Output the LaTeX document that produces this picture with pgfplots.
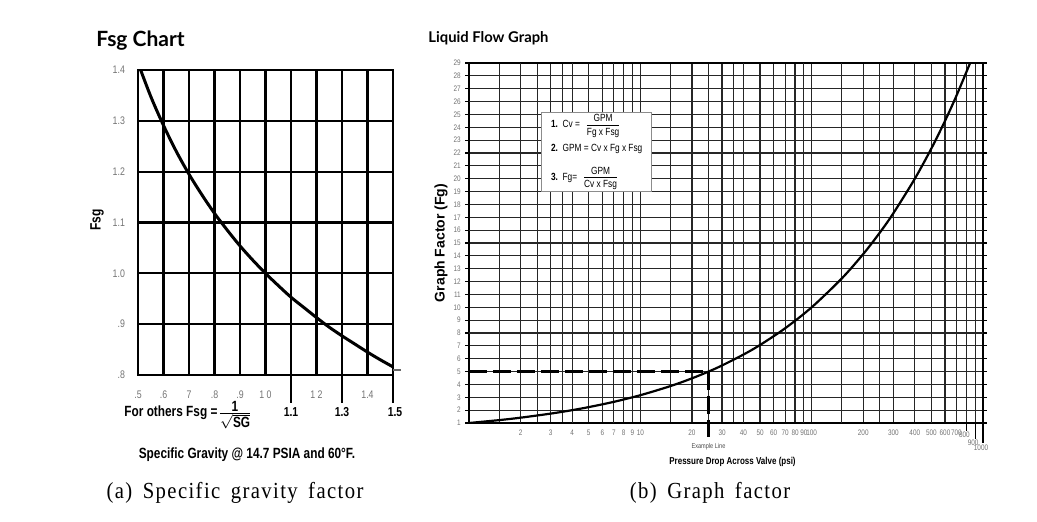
\documentclass[border=0pt]{standalone}
\usepackage{fontspec}
\setmainfont{Liberation Sans}
\newfontfamily\cond[FakeStretch=0.8]{Liberation Sans}
\newfontfamily\titlef{Lato}
\newfontfamily\capf[FakeStretch=0.9, LetterSpace=6, WordSpace=1.6]{Liberation Serif}
\usepackage{pgfplots}
\pgfplotsset{compat=1.18}
\begin{document}
\begin{tikzpicture}
\useasboundingbox (0,0) rectangle (518.5pt,260.5pt);
% ---------------- left: Fsg chart ----------------
\begin{axis}[at={(69pt,73pt)}, anchor=south west, scale only axis,
  width=127.5pt, height=152.5pt,
  xmin=0.5, xmax=1.5, ymin=0.8, ymax=1.4,
  clip mode=individual,
  xtick={0.5,0.6,0.7,0.8,0.9,1.0,1.1,1.2,1.3,1.4,1.5},
  xticklabels={.5,.6,7,.8,.9,1 0,,1 2,,1.4,},
  ytick={0.8,0.9,1.0,1.1,1.2,1.3,1.4},
  yticklabels={.8,.9,1.0,1.1,1.2,1.3,1.4},
  grid=major, major grid style={black, line width=1.1pt},
  axis line style={black, line width=1.1pt},
  major tick length=0pt,
  tick label style={font=\cond\fontsize{5.5}{6}\selectfont, text=black!55},
  xticklabel style={yshift=-4.5pt},
  yticklabel style={xshift=-3pt},
]
\addplot[black, line width=1.5pt, smooth] coordinates {
 (0.5,1.414) (0.55,1.348) (0.6,1.291) (0.65,1.240) (0.7,1.195) (0.75,1.155)
 (0.8,1.118) (0.85,1.085) (0.9,1.054) (0.95,1.026) (1.0,1.0) (1.05,0.976)
 (1.1,0.953) (1.15,0.933) (1.2,0.913) (1.25,0.894) (1.3,0.877) (1.35,0.861)
 (1.4,0.845) (1.45,0.830) (1.5,0.816)};
\draw[black, line width=1.1pt] (axis cs:1.1,0.8) -- ([yshift=-14pt]axis cs:1.1,0.8);
\draw[black, line width=1.1pt] (axis cs:1.3,0.8) -- ([yshift=-14pt]axis cs:1.3,0.8);
\draw[black, line width=1.1pt] (axis cs:1.5,0.8) -- ([yshift=-14pt]axis cs:1.5,0.8);
\draw[black!60, line width=0.6pt] (axis cs:1.5,0.81) -- ([xshift=4pt]axis cs:1.5,0.81);
\node[font=\cond\bfseries\fontsize{6.5}{7}\selectfont] at (axis cs:1.1,0.8) [yshift=-18.5pt] {1.1};
\node[font=\cond\bfseries\fontsize{6.5}{7}\selectfont] at (axis cs:1.3,0.8) [yshift=-18.5pt] {1.3};
\node[font=\cond\bfseries\fontsize{6.5}{7}\selectfont] at (axis cs:1.5,0.8) [yshift=-18.5pt, xshift=1pt] {1.5};
\end{axis}
\node[anchor=base west, inner sep=0pt, font=\titlef\bfseries\fontsize{10.5}{12}\selectfont] at (48pt,237.5pt) {Fsg Chart};
\node[rotate=90, font=\cond\bfseries\fontsize{7.5}{8}\selectfont] at (48.5pt,150.5pt) {Fsg};
\node[anchor=west, font=\cond\bfseries\fontsize{7.4}{8}\selectfont, inner sep=0pt] at (62pt,53pt)
  {For others Fsg =$\frac{\mbox{\cond\bfseries 1}}{\sqrt{\mbox{\cond\bfseries SG}}}$};
\node[font=\cond\bfseries\fontsize{7.4}{8}\selectfont] at (123.5pt,33pt) {Specific Gravity @ 14.7 PSIA and 60°F.};
% ---------------- right: Liquid flow graph ----------------
\begin{axis}[at={(234.5pt,49pt)}, anchor=south west, scale only axis,
  width=257pt, height=180pt,
  xmode=log, xmin=1, xmax=1000, ymin=1, ymax=29,
  clip mode=individual,
  xtick={1,1.5,2,2.5,3,3.5,4,5,6,7,8,9,10,15,20,25,30,35,40,50,60,70,80,90,100,150,200,250,300,400,500,600,700,800,900,1000},
  xticklabels={,,2,,3,,4,5,6,7,8,9,10,,20,,30,,40,50,60,70,80,90,100,,200,,300,400,500,600,700,,,},
  ytick={1,2,3,4,5,6,7,8,9,10,11,12,13,14,15,16,17,18,19,20,21,22,23,24,25,26,27,28,29},
  yticklabels={1,2,3,4,5,6,7,8,9,10,11,12,13,14,15,16,17,18,19,20,21,22,23,24,25,26,27,28,29},
  extra x ticks={2,4,7,40,90,150,500},
  extra x tick style={grid style={black, line width=1.1pt}, xticklabel={}},
  extra y ticks={8,16,26},
  extra y tick style={grid style={black, line width=1.2pt}, yticklabel={}},
  grid=major, major grid style={black!85, line width=0.6pt},
  axis line style={black, line width=0.8pt},
  xtick style={draw=none},
  ytick style={black, line width=0.6pt},
  tick align=outside, major tick length=1.8pt,
  tick label style={font=\cond\fontsize{4}{4.5}\selectfont, text=black!55},
  xticklabel style={yshift=2pt},
  yticklabel style={xshift=1.2pt},
]
\addplot[black, line width=1.1pt, smooth] coordinates {
 (1,1) (1.5,1.225) (2,1.414) (3,1.732) (4,2) (5,2.236) (7,2.646) (10,3.162)
 (15,3.873) (20,4.472) (25,5) (30,5.477) (40,6.325) (50,7.071) (70,8.367)
 (100,10) (150,12.247) (200,14.142) (250,15.811) (300,17.321) (400,20)
 (500,22.361) (600,24.495) (700,26.458) (841,29)};
\addplot[black, line width=1.1pt, dash pattern=on 9pt off 3pt] coordinates {(1,5) (25,5)};
\addplot[black, line width=1.1pt, dash pattern=on 9pt off 3pt] coordinates {(25,5) (25,1)};
\draw[black, line width=1.1pt] (axis cs:25,1) -- ([yshift=-7pt]axis cs:25,1);
\draw[black, line width=0.6pt] (axis cs:800,1) -- ([yshift=-4pt]axis cs:800,1);
\draw[black, line width=0.6pt] (axis cs:900,1) -- ([yshift=-8pt]axis cs:900,1);
\draw[black, line width=0.6pt] (axis cs:1000,1) -- ([yshift=-10pt]axis cs:1000,1);
\node[font=\cond\fontsize{4}{4.5}\selectfont, text=black!55] at (axis cs:800,1) [yshift=-6pt, xshift=-1pt] {800};
\node[font=\cond\fontsize{4}{4.5}\selectfont, text=black!55] at (axis cs:900,1) [yshift=-10pt, xshift=-1pt] {900};
\node[font=\cond\fontsize{4}{4.5}\selectfont, text=black!55] at (axis cs:1000,1) [yshift=-12.5pt, xshift=-1pt] {1000};
\node[font=\cond\fontsize{3.5}{4}\selectfont, text=black!70] at (axis cs:25,1) [yshift=-12pt] {Example Line};
\end{axis}
\node[anchor=base west, inner sep=0pt, font=\titlef\bfseries\fontsize{7.4}{9}\selectfont] at (214pt,239.5pt) {Liquid Flow Graph};
\node[rotate=90, font=\bfseries\fontsize{7}{8}\selectfont] at (220.5pt,139pt) {Graph Factor (Fg)};
\node[font=\cond\bfseries\fontsize{5}{6}\selectfont] at (366.25pt,29.5pt) {Pressure Drop Across Valve (psi)};
\node[draw=black!45, line width=0.5pt, fill=white, minimum width=55pt, minimum height=39.5pt, inner sep=0pt,
  font=\cond\fontsize{5.2}{6}\selectfont] at (298.35pt,184.4pt) {%
  \begin{tabular}{@{}l@{}}
  \textbf{1.}\ \ Cv =\ \ $\frac{\mbox{\cond GPM\rule[-1pt]{0pt}{1pt}}}{\mbox{\cond\rule{0pt}{4.5pt}Fg x Fsg}}$\\[6pt]
  \textbf{2.}\ \ GPM = Cv x Fg x Fsg\\[6pt]
  \textbf{3.}\ \ Fg=\ \ $\frac{\mbox{\cond GPM\rule[-1pt]{0pt}{1pt}}}{\mbox{\cond\rule{0pt}{4.5pt}Cv x Fsg}}$
  \end{tabular}};
% captions
\node[font=\capf\fontsize{11.5}{13}\selectfont] at (117.5pt,14pt) {(a) Specific gravity factor};
\node[font=\capf\fontsize{11.5}{13}\selectfont] at (355pt,14pt) {(b) Graph factor};
\end{tikzpicture}
\end{document}
